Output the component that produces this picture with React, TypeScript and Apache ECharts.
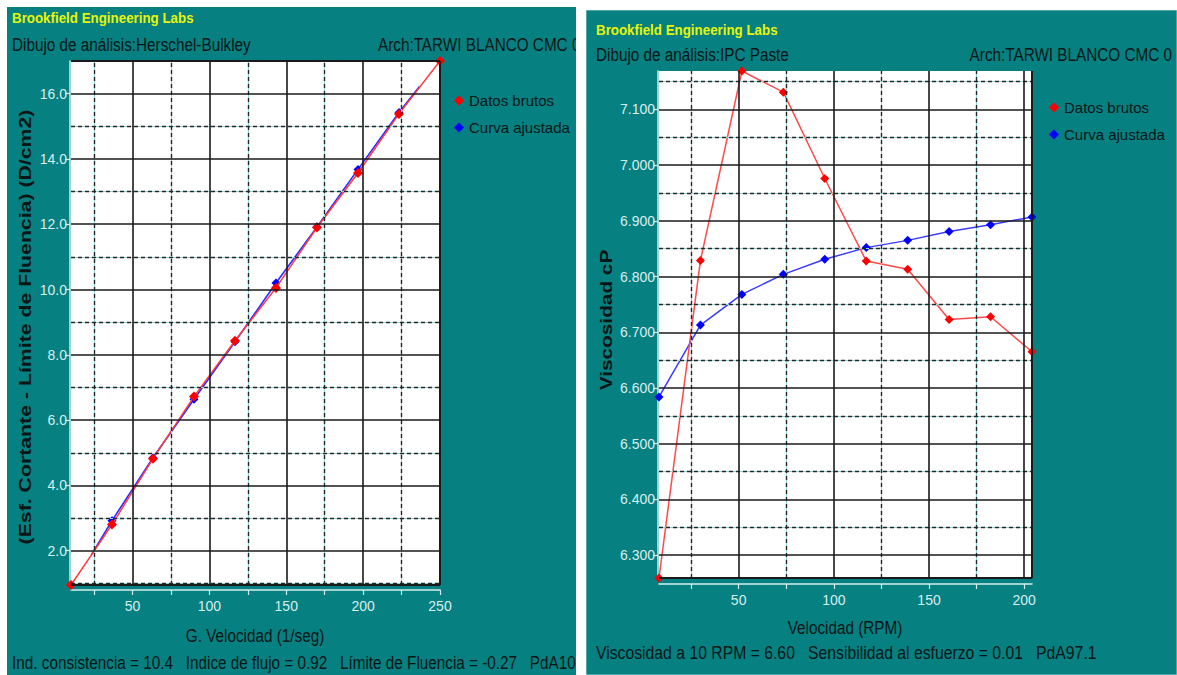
import React, { useEffect, useRef } from "react";
import * as echarts from "echarts";

// ---------- Left panel: Herschel-Bulkley ----------
const hbShearRate = [10, 36.67, 63.33, 90, 116.67, 143.33, 170, 196.67, 223.33, 250];
const hbRawStress = [0.95, 2.8, 4.82, 6.72, 8.43, 10.05, 11.9, 13.57, 15.38, 17.0];
const hbFitRate = [23.33, 36.67, 63.33, 90, 116.67, 143.33, 170, 196.67, 223.33, 236.67];
const hbFitStress = [1.88, 2.92, 4.85, 6.64, 8.4, 10.2, 11.92, 13.68, 15.42, 16.22];
const hbFitMarked = [false, true, true, true, true, true, true, true, true, false];
const hbXLabels = [50, 100, 150, 200, 250];
const hbXTicks = [25, 50, 75, 100, 125, 150, 175, 200, 225, 250];
const hbYLabels = [2, 4, 6, 8, 10, 12, 14, 16];
const hbXMajor = [50, 100, 150, 200];
const hbXMinor = [25, 75, 125, 175, 225];
const hbYMajor = [2, 4, 6, 8, 10, 12, 14, 16];
const hbYMinor = [1, 3, 5, 7, 9, 11, 13, 15];
const hbXRange = [10, 250];
const hbYRange = [0.95, 17.0];

// ---------- Right panel: IPC Paste ----------
const ipcSpeed = [8.16, 29.93, 51.7, 73.47, 95.24, 117.01, 138.78, 160.55, 182.32, 204.09];
const ipcRawVisc = [6.259, 6.829, 7.169, 7.131, 6.976, 6.828, 6.813, 6.723, 6.728, 6.665];
const ipcFitVisc = [6.584, 6.713, 6.768, 6.804, 6.831, 6.852, 6.865, 6.881, 6.893, 6.907];
const ipcXLabels = [50, 100, 150, 200];
const ipcXTicks = [25, 50, 75, 100, 125, 150, 175, 200];
const ipcYLabels = [6.3, 6.4, 6.5, 6.6, 6.7, 6.8, 6.9, 7.0, 7.1];
const ipcXMajor = [50, 100, 150, 200];
const ipcXMinor = [25, 75, 125, 175];
const ipcYMajor = [6.3, 6.4, 6.5, 6.6, 6.7, 6.8, 6.9, 7.0, 7.1];
const ipcYMinor = [6.35, 6.45, 6.55, 6.65, 6.75, 6.85, 6.95, 7.05, 7.15];
const ipcXRange = [8.16, 204.09];
const ipcYRange = [6.259, 7.169];

const legendNames = ["Datos brutos", "Curva ajustada"];

const FONT = "'Liberation Sans',Arial,sans-serif";
const TEAL = "#068080";
const DARK = "#0a1616";
const LIGHT = "#d6eeee";
const YELLOW = "#e6f50a";
const RED = "#ff0000";
const BLUE = "#0000ff";

function gridLineData(xMajor: number[], xMinor: number[], yMajor: number[], yMinor: number[], xMax: number, yMin: number, yMax: number) {
  const cyan = { color: "#8fd6d6", width: 1, type: "solid" };
  const dash = { color: "#262626", width: 1.4, type: [4, 3] };
  const solid = { color: "#1a1a1a", width: 1.6, type: "solid" };
  return [
    ...xMinor.map((v) => ({ xAxis: v, lineStyle: cyan })),
    ...yMinor.map((v) => ({ yAxis: v, lineStyle: cyan })),
    ...xMinor.map((v) => ({ xAxis: v, lineStyle: dash })),
    ...yMinor.map((v) => ({ yAxis: v, lineStyle: dash })),
    ...xMajor.map((v) => ({ xAxis: v, lineStyle: solid })),
    ...yMajor.map((v) => ({ yAxis: v, lineStyle: solid })),
    { xAxis: xMax, lineStyle: { ...solid, width: 2 } },
    { yAxis: yMax, lineStyle: { ...solid, width: 2 } },
    { yAxis: yMin, lineStyle: { ...solid, width: 2 } },
  ];
}

function xAxisOpt(gridIndex: number, range: number[], ticks: number[], labels: number[], offset: number) {
  return {
    type: "value",
    gridIndex,
    min: range[0],
    max: range[1],
    offset,
    splitLine: { show: false },
    axisLine: { show: true, onZero: false, lineStyle: { color: LIGHT, width: 1.5 } },
    axisTick: { show: true, customValues: ticks, length: 5, lineStyle: { color: LIGHT, width: 1.2 } },
    axisLabel: { customValues: labels, color: LIGHT, fontSize: 14, margin: 9, fontFamily: FONT },
  };
}

function yAxisOpt(gridIndex: number, range: number[], labels: number[], digits: number) {
  return {
    type: "value",
    gridIndex,
    min: range[0],
    max: range[1],
    offset: 1,
    splitLine: { show: false },
    axisLine: { show: true, onZero: false, lineStyle: { color: LIGHT, width: 1.5 } },
    axisTick: { show: true, customValues: labels, length: 5, lineStyle: { color: LIGHT, width: 1.2 } },
    axisLabel: {
      customValues: labels,
      color: LIGHT,
      fontSize: 14,
      margin: 3,
      fontFamily: FONT,
      formatter: (v: number) => v.toFixed(digits),
    },
  };
}

function txt(text: string, x: number, y: number, extra: any = {}, scaleX = 0.805) {
  return {
    type: "text",
    x,
    y,
    z: 10,
    scaleX,
    silent: true,
    style: {
      text,
      fill: DARK,
      font: `19px ${FONT}`,
      verticalAlign: "middle",
      align: "left",
      ...extra,
    },
  };
}

function vtxt(text: string, x: number, y: number, stretch: number) {
  return {
    type: "text",
    x,
    y,
    z: 10,
    rotation: Math.PI / 2,
    scaleX: stretch,
    silent: true,
    style: {
      text,
      fill: DARK,
      font: `bold 16px ${FONT}`,
      align: "center",
      verticalAlign: "middle",
    },
  };
}

function legendOpt(left: number, top: number) {
  return {
    left,
    top,
    orient: "vertical",
    data: legendNames,
    icon: "diamond",
    itemWidth: 10,
    itemHeight: 10,
    itemGap: 12,
    textStyle: { color: DARK, fontSize: 15, fontFamily: FONT },
  };
}

function gridSeries(xi: number, data: any[]) {
  return {
    name: "grid-" + xi,
    type: "line",
    xAxisIndex: xi,
    yAxisIndex: xi,
    data: [],
    z: 1,
    silent: true,
    markLine: {
      silent: true,
      symbol: ["none", "none"],
      label: { show: false },
      animation: false,
      data,
    },
  };
}

export default function App() {
  const ref = useRef<HTMLDivElement>(null);
  useEffect(() => {
    if (!ref.current) return;
    const chart = echarts.init(ref.current, null, { renderer: "svg" });

    const option: any = {
      animation: false,
      backgroundColor: "#ffffff",
      grid: [
        { left: 71, top: 61, width: 369, height: 524, show: true, backgroundColor: "#ffffff", borderWidth: 0 },
        { left: 659, top: 71, width: 373, height: 507, show: true, backgroundColor: "#ffffff", borderWidth: 0 },
      ],
      xAxis: [
        xAxisOpt(0, hbXRange, hbXTicks, hbXLabels, 5),
        xAxisOpt(1, ipcXRange, ipcXTicks, ipcXLabels, 6),
      ],
      yAxis: [yAxisOpt(0, hbYRange, hbYLabels, 1), yAxisOpt(1, ipcYRange, ipcYLabels, 3)],
      legend: [legendOpt(449, 88), legendOpt(1044, 95)],
      series: [
        gridSeries(0, gridLineData(hbXMajor, hbXMinor, hbYMajor, hbYMinor, hbXRange[1], hbYRange[0], hbYRange[1])),
        gridSeries(1, gridLineData(ipcXMajor, ipcXMinor, ipcYMajor, ipcYMinor, ipcXRange[1], ipcYRange[0], ipcYRange[1])),
        {
          name: "Curva ajustada",
          type: "line",
          xAxisIndex: 0,
          yAxisIndex: 0,
          z: 3,
          color: BLUE,
          symbol: "diamond",
          symbolSize: 9,
          lineStyle: { color: "#2a2aff", width: 1.6 },
          itemStyle: { color: BLUE },
          data: hbFitRate.map((x, i) => ({ value: [x, hbFitStress[i]], symbol: hbFitMarked[i] ? "diamond" : "none" })),
        },
        {
          name: "Datos brutos",
          type: "line",
          xAxisIndex: 0,
          yAxisIndex: 0,
          z: 4,
          color: RED,
          symbol: "diamond",
          symbolSize: 10,
          lineStyle: { color: "#ff3b3b", width: 1.5 },
          itemStyle: { color: RED },
          data: hbShearRate.map((x, i) => [x, hbRawStress[i]]),
        },
        {
          name: "Curva ajustada",
          type: "line",
          xAxisIndex: 1,
          yAxisIndex: 1,
          z: 3,
          color: BLUE,
          symbol: "diamond",
          symbolSize: 9,
          lineStyle: { color: "#3a3aff", width: 1.5 },
          itemStyle: { color: BLUE },
          data: ipcSpeed.map((x, i) => [x, ipcFitVisc[i]]),
        },
        {
          name: "Datos brutos",
          type: "line",
          xAxisIndex: 1,
          yAxisIndex: 1,
          z: 4,
          color: RED,
          symbol: "diamond",
          symbolSize: 9,
          lineStyle: { color: "#ff4a4a", width: 1.5 },
          itemStyle: { color: RED },
          data: ipcSpeed.map((x, i) => [x, ipcRawVisc[i]]),
        },
      ],
      graphic: [
        { type: "rect", z: -1, silent: true, shape: { x: 7, y: 7, width: 569, height: 668 }, style: { fill: TEAL } },
        { type: "rect", z: -1, silent: true, shape: { x: 586, y: 10, width: 591, height: 665 }, style: { fill: TEAL, stroke: "#9ccfcf", lineWidth: 1 } },
        // left texts
        txt("Brookfield Engineering Labs", 12, 18, { fill: YELLOW, font: `bold 15px ${FONT}` }, 0.89),
        txt("Dibujo de análisis:Herschel-Bulkley", 12, 44),
        txt("Arch:TARWI BLANCO CMC 0", 378, 44),
        vtxt("(Esf. Cortante - Límite de Fluencia) (D/cm2)", 25, 327, 1.33),
        txt("G. Velocidad (1/seg)", 255, 635, { align: "center" }),
        txt("Ind. consistencia = 10.4   Indice de flujo = 0.92   Límite de Fluencia = -0.27   PdA10", 12, 662),
        // right texts
        txt("Brookfield Engineering Labs", 596, 30, { fill: YELLOW, font: `bold 15px ${FONT}` }, 0.89),
        txt("Dibujo de análisis:IPC Paste", 596, 54),
        txt("Arch:TARWI BLANCO CMC 0", 1172, 54, { align: "right" }),
        vtxt("Viscosidad cP", 606, 320, 1.3),
        txt("Velocidad (RPM)", 845, 627, { align: "center" }),
        txt("Viscosidad a 10 RPM = 6.60   Sensibilidad al esfuerzo = 0.01   PdA97.1", 596, 652, {}, 0.83),
        // white gap between the two panels (clips overflowing texts)
        { type: "rect", z: 20, silent: true, shape: { x: 576, y: 0, width: 10, height: 675 }, style: { fill: "#ffffff" } },
        { type: "rect", z: 20, silent: true, shape: { x: 576, y: 0, width: 601, height: 10 }, style: { fill: "#ffffff" } },
      ],
    };

    chart.setOption(option);
    return () => chart.dispose();
  }, []);

  return (
    <div
      ref={ref}
      style={{ position: "absolute", left: 0, top: 0, width: 1177, height: 675 }}
    />
  );
}
